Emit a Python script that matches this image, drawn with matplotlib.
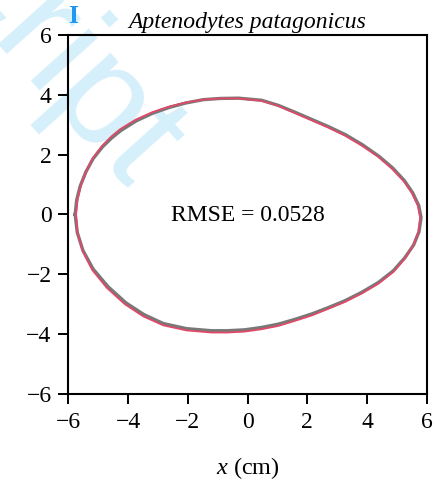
import matplotlib
matplotlib.use("Agg")
import matplotlib.pyplot as plt

plt.rcParams["font.family"] = ["Liberation Serif", "DejaVu Serif"]
plt.rcParams["mathtext.fontset"] = "custom"
plt.rcParams["mathtext.it"] = "Liberation Serif:italic"
plt.rcParams["mathtext.rm"] = "Liberation Serif"

# Measured egg outline (cm), traced clockwise from the blunt-left pole
shell_x = [-5.77, -5.72, -5.60, -5.41, -5.17, -4.86, -4.55, -4.24, -3.73, -3.17,
           -2.62, -2.06, -1.48, -0.92, -0.30, 0.47, 1.03, 1.59, 2.15, 2.71,
           3.28, 3.84, 4.40, 4.86, 5.25, 5.53, 5.73, 5.81, 5.74, 5.56,
           5.27, 4.88, 4.38, 3.82, 3.26, 2.70, 2.15, 1.59, 1.03, 0.47,
           -0.10, -0.70, -1.20, -2.04, -2.82, -3.47, -4.07, -4.67, -5.17, -5.51,
           -5.70, -5.77]
shell_y = [0.00, 0.48, 0.95, 1.42, 1.86, 2.25, 2.55, 2.80, 3.12, 3.38,
           3.57, 3.72, 3.83, 3.87, 3.88, 3.81, 3.64, 3.41, 3.17, 2.93,
           2.66, 2.33, 1.94, 1.55, 1.13, 0.72, 0.30, -0.10, -0.58, -1.02,
           -1.44, -1.88, -2.27, -2.60, -2.88, -3.11, -3.32, -3.50, -3.66, -3.77,
           -3.85, -3.88, -3.88, -3.81, -3.64, -3.34, -2.95, -2.41, -1.82, -1.20,
           -0.60, 0.00]

# Fitted model outline (cm)
fit_x = [-5.74, -5.69, -5.58, -5.40, -5.17, -4.87, -4.57, -4.27, -3.75, -3.19,
         -2.62, -2.05, -1.48, -0.92, -0.30, 0.47, 1.03, 1.59, 2.15, 2.70,
         3.26, 3.82, 4.38, 4.83, 5.22, 5.50, 5.70, 5.78, 5.72, 5.55,
         5.27, 4.88, 4.38, 3.82, 3.26, 2.70, 2.15, 1.59, 1.03, 0.47,
         -0.10, -0.70, -1.20, -2.04, -2.82, -3.49, -4.10, -4.71, -5.20, -5.52,
         -5.69, -5.74]
fit_y = [0.00, 0.49, 0.97, 1.45, 1.89, 2.29, 2.59, 2.84, 3.16, 3.41,
         3.60, 3.74, 3.83, 3.87, 3.87, 3.79, 3.62, 3.38, 3.14, 2.90,
         2.63, 2.30, 1.92, 1.53, 1.12, 0.72, 0.30, -0.10, -0.58, -1.03,
         -1.47, -1.92, -2.31, -2.64, -2.92, -3.15, -3.37, -3.55, -3.72, -3.83,
         -3.91, -3.94, -3.94, -3.87, -3.70, -3.40, -3.00, -2.45, -1.85, -1.22,
         -0.60, 0.00]

ticks = [-6, -4, -2, 0, 2, 4, 6]
tick_labels = ["\u22126", "\u22124", "\u22122", "0", "2", "4", "6"]
rmse = 0.0528

fig = plt.figure(figsize=(4.42, 4.91), dpi=100)
ax = fig.add_axes([0.1545, 0.197, 0.811, 0.7325])
ax.set_facecolor("none")

# faint diagonal watermark behind the axes
fig.text(126 / 442, 1 - 194 / 491, "Script", fontsize=106, family="Liberation Sans",
         color="#d5effb", rotation=-48, rotation_mode="anchor",
         ha="right", va="baseline", zorder=-5)

ax.plot(shell_x, shell_y, color="#787878", lw=2.4, solid_joinstyle="round")
ax.plot(fit_x, fit_y, color="#e04a68", lw=1.3, solid_joinstyle="round")

ax.text(0, -0.05, f"RMSE = {rmse}", ha="center", va="center", fontsize=17)

ax.set_xlim(-6, 6)
ax.set_ylim(-6, 6)
ax.set_xticks(ticks)
ax.set_xticklabels(tick_labels)
ax.set_yticks(ticks)
ax.set_yticklabels(tick_labels)
ax.tick_params(direction="out", length=7, width=1.4, labelsize=17)
ax.tick_params(axis="x", pad=6)
ax.tick_params(axis="y", pad=5)
for s in ax.spines.values():
    s.set_linewidth(1.5)

ax.set_xlabel(r"$x$ (cm)", fontsize=17.5, labelpad=16)
ax.set_title("Aptenodytes patagonicus", fontsize=17, style="italic", pad=5)
fig.text(73 / 442, 1 - 16.5 / 491, "I", fontsize=18.5, fontweight="bold",
         color="#2196f3", ha="center", va="center")

fig.savefig("out.png", dpi=100)
